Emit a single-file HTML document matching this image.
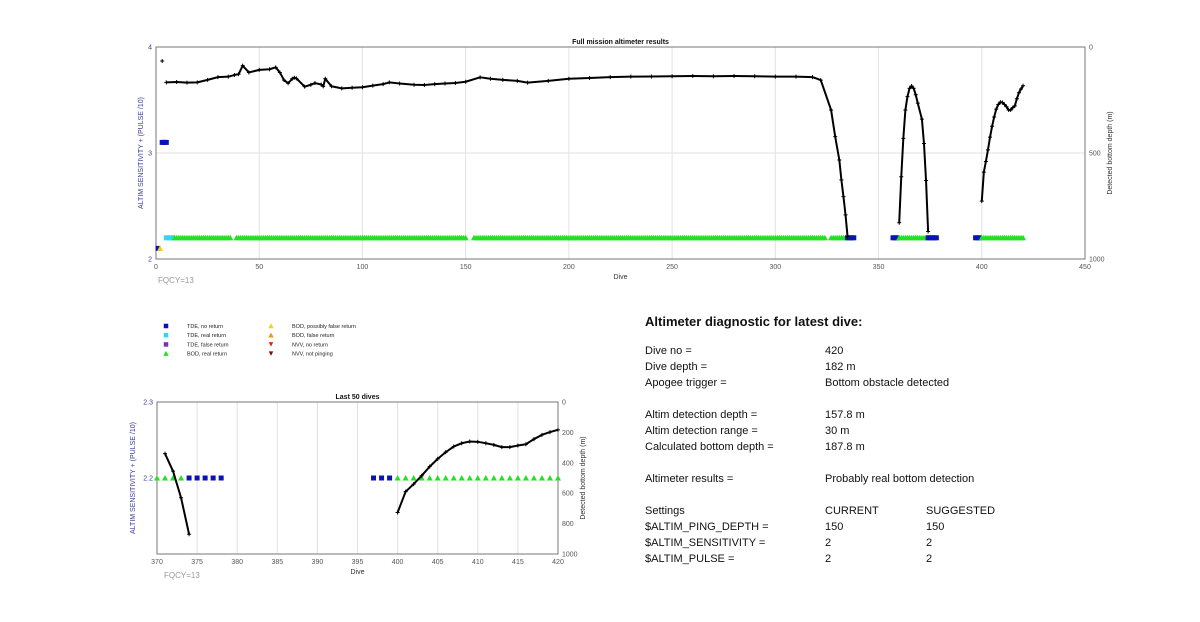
<!DOCTYPE html>
<html><head><meta charset="utf-8">
<style>
body{margin:0;background:#fff;width:1200px;height:622px;overflow:hidden;font-family:"Liberation Sans",sans-serif;}
svg{position:absolute;left:0;top:0}
.diag{position:absolute;font-size:11px;color:#111;white-space:nowrap}
</style></head><body>
<svg id="chart" width="1200" height="622"></svg>
<div class="diag" style="left:645px;top:314px;font-size:13px;font-weight:bold">Altimeter diagnostic for latest dive:</div>
<div id="diag"></div>
<script>
// ---- DATA ----
// depth line (dive, depth m), null = gap
const depthDives = [3,null,5,10,15,20,25,30,35,38,40,42,45,50,55,58,60,62,64,66,67,68,72,75,77,80,81,82,85,90,95,100,105,110,113,118,125,130,135,140,145,150,157,162,168,175,180,190,200,210,220,230,240,250,260,270,280,290,300,310,318,322,327,329,331,332,333,334,335,null,360,361,362,363,364,365,366,367,368,369,371,372,373,374,null,400,401,402,403,404,405,406,407,408,409,410,411,412,413,414,415,416,417,418,419,420];
const depthVals  = [66,null,167,165,168,167,155,142,140,132,128,88,120,108,105,96,120,156,171,150,145,148,187,178,170,177,186,150,185,195,192,190,182,175,167,172,178,179,175,172,170,164,143,150,155,160,168,160,150,146,142,140,139,138,137,138,137,138,140,140,142,156,297,423,533,627,706,792,895,null,829,612,431,297,234,195,184,195,225,265,340,455,630,870,null,727,590,540,485,425,374,330,293,271,260,262,271,282,297,297,286,278,244,216,198,183];
// marker runs: [firstDive, lastDive, sensitivityValue, typeCode]
const markerRuns = [[1,1,2.1,'tdeNo'],[2,2,2.1,'bodPoss'],[3,5,3.1,'tdeNo'],[5,8,2.2,'tdeReal'],[9,36,2.2,'bodReal'],[39,150,2.2,'bodReal'],[154,324,2.2,'bodReal'],[327,334,2.2,'bodReal'],[335,338,2.2,'tdeNo'],[357,359,2.2,'tdeNo'],[360,373,2.2,'bodReal'],[374,378,2.2,'tdeNo'],[397,399,2.2,'tdeNo'],[400,420,2.2,'bodReal']];
const topXTicks = [0,50,100,150,200,250,300,350,400,450];
const topYTicks = [2,3,4];
const depthTicksTop = [0,500,1000];
const botXTicks = [370,375,380,385,390,395,400,405,410,415,420];
const botYTicks = [2.2,2.3];
const depthTicksBot = [0,200,400,600,800,1000];
const legendLabels = ['TDE, no return','TDE, real return','TDE, false return','BOD, real return','BOD, possibly false return','BOD, false return','NVV, no return','NVV, not pinging'];
const legendTypes = ['tdeNo','tdeReal','tdeFalse','bodReal','bodPoss','bodFalse','nvvNo','nvvNot'];
const diagRows = [['Dive no =','420',''],['Dive depth =','182 m',''],['Apogee trigger =','Bottom obstacle detected',''],null,['Altim detection depth =','157.8 m',''],['Altim detection range =','30 m',''],['Calculated bottom depth =','187.8 m',''],null,['Altimeter results =','Probably real bottom detection',''],null,['Settings','CURRENT','SUGGESTED'],['$ALTIM_PING_DEPTH =','150','150'],['$ALTIM_SENSITIVITY =','2','2'],['$ALTIM_PULSE =','2','2']];

const NS='http://www.w3.org/2000/svg';
const svg=document.getElementById('chart');
function el(tag,attrs,parent,txt){const e=document.createElementNS(NS,tag);for(const k in attrs)e.setAttribute(k,attrs[k]);if(txt!=null)e.textContent=txt;(parent||svg).appendChild(e);return e;}
const colors={tdeNo:'#0a14b4',tdeReal:'#33d6ee',tdeFalse:'#7a35b0',bodReal:'#22e022',bodPoss:'#f2d21a',bodFalse:'#e89a20',nvvNo:'#d8261a',nvvNot:'#7a1010'};
function marker(type,x,y,s,g){
  const c=colors[type];let m;
  if(type.startsWith('tde')) m=el('rect',{x:x-s/2,y:y-s/2,width:s,height:s,fill:c},g);
  else if(type.startsWith('bod')) m=el('polygon',{points:`${x},${y-s/2-0.5} ${x-s/2-0.5},${y+s/2} ${x+s/2+0.5},${y+s/2}`,fill:c},g);
  else m=el('polygon',{points:`${x},${y+s/2} ${x-s/2},${y-s/2} ${x+s/2},${y-s/2}`,fill:c},g);
  
  
}
function drawChart(cfg){
  const g=el('g',{});
  
  
  const X=d=>cfg.x0+(d-cfg.xmin)/(cfg.xmax-cfg.xmin)*(cfg.x1-cfg.x0);
  const Y=v=>cfg.y1-(v-cfg.ymin)/(cfg.ymax-cfg.ymin)*(cfg.y1-cfg.y0);
  const D=v=>cfg.y0+v/1000*(cfg.y1-cfg.y0);
  cfg.xticks.forEach(t=>{const gl=el('line',{x1:X(t),x2:X(t),y1:cfg.y0,y2:cfg.y1,stroke:'#e2e2e2','stroke-width':1},g);
    
    const tl=el('text',{x:X(t),y:cfg.y1+10,'font-size':7,fill:'#555','text-anchor':'middle'},g,t);
    });
  cfg.yticks.forEach(t=>{if(cfg.grid){el('line',{x1:cfg.x0,x2:cfg.x1,y1:Y(t),y2:Y(t),stroke:'#e2e2e2'},g);}
    const tl=el('text',{x:cfg.x0-4,y:Y(t)+2.5,'font-size':7,fill:'#3a3aa0','text-anchor':'end'},g,t);
    });
  cfg.dticks.forEach(t=>{const tl=el('text',{x:cfg.x1+4,y:D(t)+2.5,'font-size':7,fill:'#555'},g,t);
    });
  const ax=el('rect',{x:cfg.x0,y:cfg.y0,width:cfg.x1-cfg.x0,height:cfg.y1-cfg.y0,fill:'none',stroke:'#777','stroke-width':1},g);
  
  const tt=el('text',{x:(cfg.x0+cfg.x1)/2,y:cfg.y0-3,'font-size':7,'font-weight':'bold','text-anchor':'middle',fill:'#111'},g,cfg.title);
  
  const xl=el('text',{x:(cfg.x0+cfg.x1)/2,y:cfg.y1+20,'font-size':7,'text-anchor':'middle',fill:'#333'},g,'Dive');
  
  const cy=(cfg.y0+cfg.y1)/2;
  const lx=cfg.x0-cfg.lOff;
  const yl=el('text',{x:lx,y:cy,'font-size':7,'text-anchor':'middle',fill:'#3a3aa0',transform:`rotate(-90 ${lx} ${cy})`},g,'ALTIM SENSITIVITY + (PULSE /10)');
  
  const rl=el('text',{x:cfg.x1+cfg.rOff,y:cy,'font-size':7,'text-anchor':'middle',fill:'#333',transform:`rotate(-90 ${cfg.x1+cfg.rOff} ${cy})`},g,'Detected bottom depth (m)');
  
  const fq=el('text',{x:cfg.fqx,y:cfg.y1+24,'font-size':8,fill:'#999'},g,'FQCY=13');
  
  markerRuns.forEach(r=>{for(let d=r[0];d<=r[1];d++){if(d<cfg.xmin||d>cfg.xmax)continue;if(r[2]<cfg.ymin||r[2]>cfg.ymax)continue;marker(r[3],X(d),Y(r[2]),cfg.ms,g);}});
  let pts=[];const segs=[];
  depthDives.forEach((d,i)=>{if(d===null||d<cfg.xmin){if(pts.length)segs.push(pts);pts=[];return;}pts.push([X(d),D(depthVals[i])]);});
  if(pts.length)segs.push(pts);
  segs.forEach(s=>{
    if(s.length>1){const p=el('polyline',{points:s.map(q=>q.join(',')).join(' '),fill:'none',stroke:'#000','stroke-width':cfg.lw,'stroke-linejoin':'round'},g);
      }
    s.forEach(q=>{const c=el('path',{d:`M${q[0]-2},${q[1]}h4M${q[0]},${q[1]-2}v4`,stroke:'#000','stroke-width':1},g);
      });
  });
}
drawChart({name:'full-mission-chart',title:'Full mission altimeter results',x0:156,x1:1085,y0:47,y1:259,xmin:0,xmax:450,ymin:2,ymax:4,xticks:topXTicks,yticks:topYTicks,dticks:depthTicksTop,grid:true,ms:5,lw:2,rOff:27,lOff:13,fqx:158});
drawChart({name:'last-50-dives-chart',title:'Last 50 dives',x0:157,x1:558,y0:402,y1:554,xmin:370,xmax:420,ymin:2.1,ymax:2.3,xticks:botXTicks,yticks:botYTicks,dticks:depthTicksBot,grid:false,ms:5,lw:2,rOff:27,lOff:22,fqx:164});
const lg=el('g',{});


legendLabels.forEach((lab,i)=>{const col=Math.floor(i/4),row=i%4;const x=166+col*105,y=326+row*9.2;
  marker(legendTypes[i],x,y,4.5,lg);
  const t=el('text',{x:x+21,y:y+2,'font-size':5.5,fill:'#222'},lg,lab);
  });
const dg=document.getElementById('diag');
let y=345;
diagRows.forEach(r=>{if(!r){y+=16;return;}
  [[645,r[0]],[825,r[1]],[926,r[2]]].forEach(([x,t],j)=>{if(!t)return;const d=document.createElement('div');d.className='diag';d.style.left=x+'px';d.style.top=y+'px';d.textContent=t;
    
    dg.appendChild(d);});
  y+=16;});
</script>
</body></html>
